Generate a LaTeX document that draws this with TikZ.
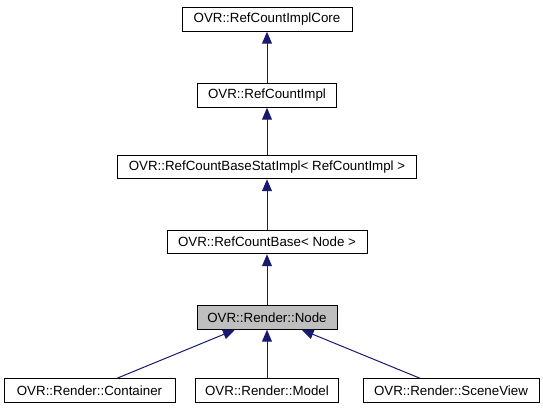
\documentclass[tikz,border=0pt]{standalone}
\usepackage{fontspec}
\setmainfont{Liberation Sans}
\usetikzlibrary{arrows.meta}
\definecolor{midnight}{RGB}{25,25,112}
\definecolor{nodegray}{RGB}{191,191,191}

\begin{document}
\begin{tikzpicture}[x=0.75pt, y=-0.75pt,
        cls/.style={draw=black, fill=white, line width=0.75pt, inner sep=0pt,
            minimum height=17.6pt, font=\fontsize{10}{12}\selectfont},
        edge/.style={draw=midnight, line width=0.75pt,
            -{Triangle[length=9pt, width=7.5pt]}}]
    \useasboundingbox (0,0) rectangle (543,411);

    \node[cls, minimum width=127.5pt]  (core)      at (267,19.5)  {OVR::RefCountImplCore};
    \node[cls, minimum width=104.25pt] (impl)      at (267,95.5)  {OVR::RefCountImpl};
    \node[cls, minimum width=224.25pt] (statimpl)  at (267,167)   {OVR::RefCountBaseStatImpl< RefCountImpl >};
    \node[cls, minimum width=150pt]    (base)      at (267,242)   {OVR::RefCountBase< Node >};
    \node[cls, fill=nodegray, minimum width=105pt] (node) at (267,317.5) {OVR::Render::Node};
    \node[cls, minimum width=128.25pt] (container) at (89.5,390.5) {OVR::Render::Container};
    \node[cls, minimum width=107.25pt] (model)     at (267,390.5) {OVR::Render::Model};
    \node[cls, minimum width=132pt]    (sceneview) at (451,390.5) {OVR::Render::SceneView};

    \draw[edge] (impl.north) -- (core.south);
    \draw[edge] (statimpl.north) -- (impl.south);
    \draw[edge] (base.north) -- (statimpl.south);
    \draw[edge] (node.north) -- (base.south);
    \draw[edge] ([xshift=20.6pt]container.north) -- ([xshift=-24pt]node.south);
    \draw[edge] (model.north) -- (node.south);
    \draw[edge] ([xshift=-23.25pt]sceneview.north) -- ([xshift=26pt]node.south);
\end{tikzpicture}
\end{document}
